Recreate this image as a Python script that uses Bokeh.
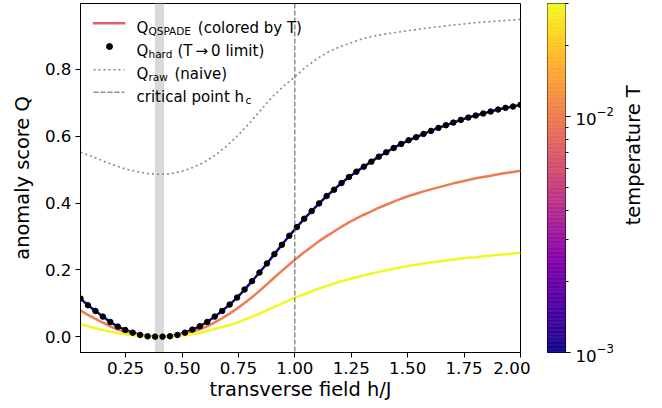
import math
import numpy as np
from bokeh.plotting import figure
from bokeh.models import (Range1d, FixedTicker, NumeralTickFormatter, Span,
                          BoxAnnotation, Label, LogTickFormatter)
from bokeh.core.properties import value
from bokeh.layouts import row
from bokeh.palettes import Plasma256
from bokeh.embed import file_html
from bokeh.resources import INLINE

FONT = "DejaVu Sans"

# ---------------- data ----------------
h = np.linspace(0.05, 2.0, 60)

q_hard = [0.114, 0.094, 0.077, 0.060, 0.044, 0.030, 0.020, 0.012, 0.005, 0.001,
          0.000, 0.000, 0.001, 0.005, 0.012, 0.021, 0.031, 0.044, 0.060, 0.077,
          0.096, 0.117, 0.141, 0.166, 0.192, 0.219, 0.247, 0.275, 0.302, 0.328,
          0.353, 0.376, 0.399, 0.421, 0.440, 0.460, 0.478, 0.494, 0.509, 0.524,
          0.539, 0.552, 0.565, 0.577, 0.588, 0.597, 0.607, 0.616, 0.625, 0.633,
          0.641, 0.649, 0.656, 0.662, 0.668, 0.674, 0.680, 0.685, 0.689, 0.694]

q_T_001 = [0.114, 0.094, 0.077, 0.060, 0.044, 0.030, 0.020, 0.012, 0.005, 0.001,
           0.000, 0.000, 0.001, 0.005, 0.012, 0.021, 0.031, 0.044, 0.060, 0.077,
           0.096, 0.117, 0.141, 0.166, 0.192, 0.219, 0.247, 0.275, 0.302, 0.328,
           0.353, 0.376, 0.399, 0.421, 0.440, 0.460, 0.478, 0.494, 0.509, 0.524,
           0.539, 0.552, 0.565, 0.577, 0.588, 0.597, 0.607, 0.616, 0.625, 0.633,
           0.641, 0.649, 0.656, 0.662, 0.668, 0.674, 0.680, 0.685, 0.689, 0.694]

q_T_010 = [0.078, 0.065, 0.053, 0.042, 0.031, 0.021, 0.014, 0.008, 0.004, 0.001,
           0.000, 0.000, 0.001, 0.004, 0.009, 0.015, 0.022, 0.031, 0.043, 0.055,
           0.069, 0.084, 0.101, 0.118, 0.137, 0.157, 0.177, 0.197, 0.216, 0.235,
           0.253, 0.269, 0.286, 0.301, 0.315, 0.329, 0.342, 0.354, 0.365, 0.375,
           0.386, 0.395, 0.404, 0.413, 0.421, 0.428, 0.435, 0.441, 0.447, 0.453,
           0.459, 0.464, 0.469, 0.474, 0.478, 0.482, 0.486, 0.490, 0.493, 0.497]

q_T_030 = [0.037, 0.031, 0.025, 0.020, 0.015, 0.010, 0.007, 0.004, 0.002, 0.000,
           0.000, 0.000, 0.000, 0.002, 0.004, 0.008, 0.011, 0.017, 0.023, 0.029,
           0.035, 0.042, 0.051, 0.060, 0.069, 0.079, 0.089, 0.099, 0.109, 0.119,
           0.127, 0.136, 0.144, 0.152, 0.159, 0.166, 0.172, 0.178, 0.184, 0.189,
           0.194, 0.199, 0.203, 0.208, 0.212, 0.215, 0.219, 0.222, 0.225, 0.228,
           0.231, 0.234, 0.236, 0.238, 0.241, 0.243, 0.245, 0.247, 0.249, 0.251]

temperatures = [1e-3, 1e-2, 3e-2]
q_qspade = [q_T_001, q_T_010, q_T_030]

h_raw = [0.05, 0.10, 0.15, 0.20, 0.25, 0.30, 0.35, 0.40, 0.45, 0.50, 0.55, 0.60,
         0.65, 0.70, 0.75, 0.80, 0.85, 0.90, 0.95, 1.00, 1.05, 1.10, 1.15, 1.20,
         1.25, 1.30, 1.35, 1.40, 1.45, 1.50, 1.60, 1.70, 1.80, 1.90, 2.00]
q_raw = [0.552, 0.540, 0.526, 0.513, 0.502, 0.494, 0.488, 0.486, 0.488, 0.495, 0.507, 0.523,
         0.545, 0.572, 0.604, 0.640, 0.679, 0.718, 0.750, 0.778, 0.808, 0.833, 0.853, 0.868,
         0.880, 0.892, 0.900, 0.906, 0.911, 0.916, 0.925, 0.933, 0.940, 0.945, 0.950]

h_c = 1.0
band_left, band_right = 0.38, 0.42
T_low, T_high = 1e-3, 3e-2

x_ticks = [0.25, 0.50, 0.75, 1.00, 1.25, 1.50, 1.75, 2.00]
y_ticks = [0.0, 0.2, 0.4, 0.6, 0.8]
cbar_major = [1e-3, 1e-2]
cbar_minor = [2e-3, 3e-3, 4e-3, 5e-3, 6e-3, 7e-3, 8e-3, 9e-3, 2e-2, 3e-2]

# ---------------- layout constants ----------------
X0, X1 = 0.05, 2.0
Y0, Y1 = -0.0475, 0.9975
FL, FT, FW, FH = 80, 3, 440, 349   # main frame in px
W1, W2 = 530, 90
W3 = 662 - W1 - W2


def dx(px):
    return X0 + (px - FL) * (X1 - X0) / FW


def dy(py):
    return Y1 - (py - FT) * (Y1 - Y0) / FH


def tcolor(T):
    frac = (math.log10(T) - math.log10(T_low)) / (math.log10(T_high) - math.log10(T_low))
    return Plasma256[max(0, min(255, int(round(frac * 255))))]


def style_axis(ax, tick_size="16.7px", label_size="19.4px"):
    ax.axis_line_color = "black"
    ax.axis_line_width = 1
    ax.major_tick_line_color = "black"
    ax.major_tick_out = 5
    ax.major_tick_in = 0
    ax.minor_tick_line_color = None
    ax.major_label_text_font = FONT
    ax.major_label_text_font_size = tick_size
    ax.major_label_text_color = "black"
    ax.axis_label_text_font = FONT
    ax.axis_label_text_font_size = label_size
    ax.axis_label_text_font_style = "normal"
    ax.axis_label_text_color = "black"


# ---------------- main figure ----------------
p1 = figure(width=W1, height=408, x_range=Range1d(X0, X1), y_range=Range1d(Y0, Y1),
            output_backend="svg", toolbar_location=None, title=None,
            min_border_left=FL, min_border_right=W1 - FL - FW, min_border_top=FT,
            min_border_bottom=408 - FT - FH)
p1.xgrid.visible = False
p1.ygrid.visible = False
p1.outline_line_color = "black"
p1.outline_line_alpha = 1
p1.outline_line_width = 1
p1.background_fill_color = "white"
p1.border_fill_color = "white"

style_axis(p1.xaxis[0])
style_axis(p1.yaxis[0])
p1.xaxis.ticker = FixedTicker(ticks=x_ticks)
p1.yaxis.ticker = FixedTicker(ticks=y_ticks)
p1.xaxis.formatter = NumeralTickFormatter(format="0.00")
p1.yaxis.formatter = NumeralTickFormatter(format="0.0")
p1.xaxis.axis_label = "transverse field h/J"
p1.yaxis.axis_label = "anomaly score Q"
p1.xaxis.major_label_standoff = 4
p1.yaxis.major_label_standoff = 4
p1.xaxis.axis_label_standoff = 1
p1.yaxis.axis_label_standoff = 8

band = BoxAnnotation(left=band_left, right=band_right, fill_color="#d9d9d9", fill_alpha=1,
                     line_color=None, level="underlay")
p1.add_layout(band)

p1.line(h_raw, q_raw, line_color="#888888", line_width=1.6, line_dash="2 3")
p1.add_layout(Span(location=h_c, dimension="height", line_color="#555555",
                   line_width=1, line_dash="5 2"))

for T, q in zip(temperatures, q_qspade):
    p1.line(h, q, line_color=tcolor(T), line_width=2.5)

p1.scatter(h, q_hard, size=5.5, fill_color="black", line_color="black")

# ---- legend (manual, to allow subscripts) ----
LEG_FS = "15px"
SUB_FS = "10.5px"
rows_base = [27.7, 50.7, 73.7, 96.7]
handle_y = [22.7, 46.0, 69.3, 91.7]

p1.line([dx(92.3), dx(125)], [dy(handle_y[0])] * 2, line_color="#e16462", line_width=2.5)
p1.scatter([dx(109)], [dy(handle_y[1])], size=6, fill_color="black", line_color="black")
p1.line([dx(93), dx(124)], [dy(handle_y[2])] * 2, line_color="#888888", line_width=1.6,
        line_dash="2 3")
p1.line([dx(93), dx(124)], [dy(handle_y[3])] * 2, line_color="#555555", line_width=1,
        line_dash="5 2")

leg_rows = [
    [(136, 0, "Q", LEG_FS), (148, 1, "QSPADE", SUB_FS), (197.3, 0, "(colored by T)", LEG_FS)],
    [(136, 0, "Q", LEG_FS), (148, 1, "hard", SUB_FS), (177, 0, "(T\u2009\u2192\u20090 limit)", LEG_FS)],
    [(136, 0, "Q", LEG_FS), (148, 1, "raw", SUB_FS), (174, 0, "(naive)", LEG_FS)],
    [(136, 0, "critical point h", LEG_FS), (245, 1, "c", SUB_FS)],
]
for base, pieces in zip(rows_base, leg_rows):
    for px, is_sub, txt, fs in pieces:
        p1.add_layout(Label(x=dx(px), y=dy(base + (2.5 if is_sub else 0)), text=txt,
                            text_font=FONT, text_font_size=fs, text_color="black",
                            text_baseline="alphabetic", text_align="left"))

# ---------------- colorbar figure ----------------
CB_L, CB_W = 547 - W1, 18
p2 = figure(width=W2, height=408, x_range=Range1d(0, 1), y_range=Range1d(T_low, T_high),
            y_axis_type="log", y_axis_location="right", x_axis_location=None,
            output_backend="svg", toolbar_location=None, title=None,
            min_border_left=CB_L, min_border_right=W2 - CB_L - CB_W,
            min_border_top=FT, min_border_bottom=408 - FT - FH)
p2.xgrid.visible = False
p2.ygrid.visible = False
p2.outline_line_color = "black"
p2.outline_line_width = 1
p2.outline_line_alpha = 1
p2.background_fill_color = "white"
p2.border_fill_color = "white"

edges = np.geomspace(T_low, T_high, 257)
cols = list(Plasma256)
p2.quad(left=0, right=1, bottom=edges[:-1], top=edges[1:], fill_color=cols,
        line_color=cols, line_width=0.6)

ya = p2.yaxis[0]
style_axis(ya)
ya.axis_line_color = None
ya.ticker = FixedTicker(ticks=cbar_major, minor_ticks=cbar_minor)
ya.formatter = LogTickFormatter()
ya.minor_tick_line_color = "black"
ya.minor_tick_out = 3
ya.minor_tick_in = 0
ya.major_label_standoff = 5

# ---------------- colorbar title (rotated, reads bottom to top) ----------------
p3 = figure(width=W3, height=408, x_range=Range1d(0, W3), y_range=Range1d(0, 408),
            x_axis_location=None, y_axis_location=None,
            output_backend="svg", toolbar_location=None, title=None,
            min_border_left=0, min_border_right=0, min_border_top=0, min_border_bottom=0)
p3.xgrid.visible = False
p3.ygrid.visible = False
p3.outline_line_color = None
p3.background_fill_color = "white"
p3.border_fill_color = "white"
p3.text(x=[633 - W1 - W2], y=[408 - 177.5], text=["temperature T"], angle=math.pi / 2,
        text_font=value(FONT), text_font_size="19.4px", text_color="black",
        text_align="center", text_baseline="middle")

layout = row(p1, p2, p3)
open("out.html", "w").write(file_html(layout, INLINE))
